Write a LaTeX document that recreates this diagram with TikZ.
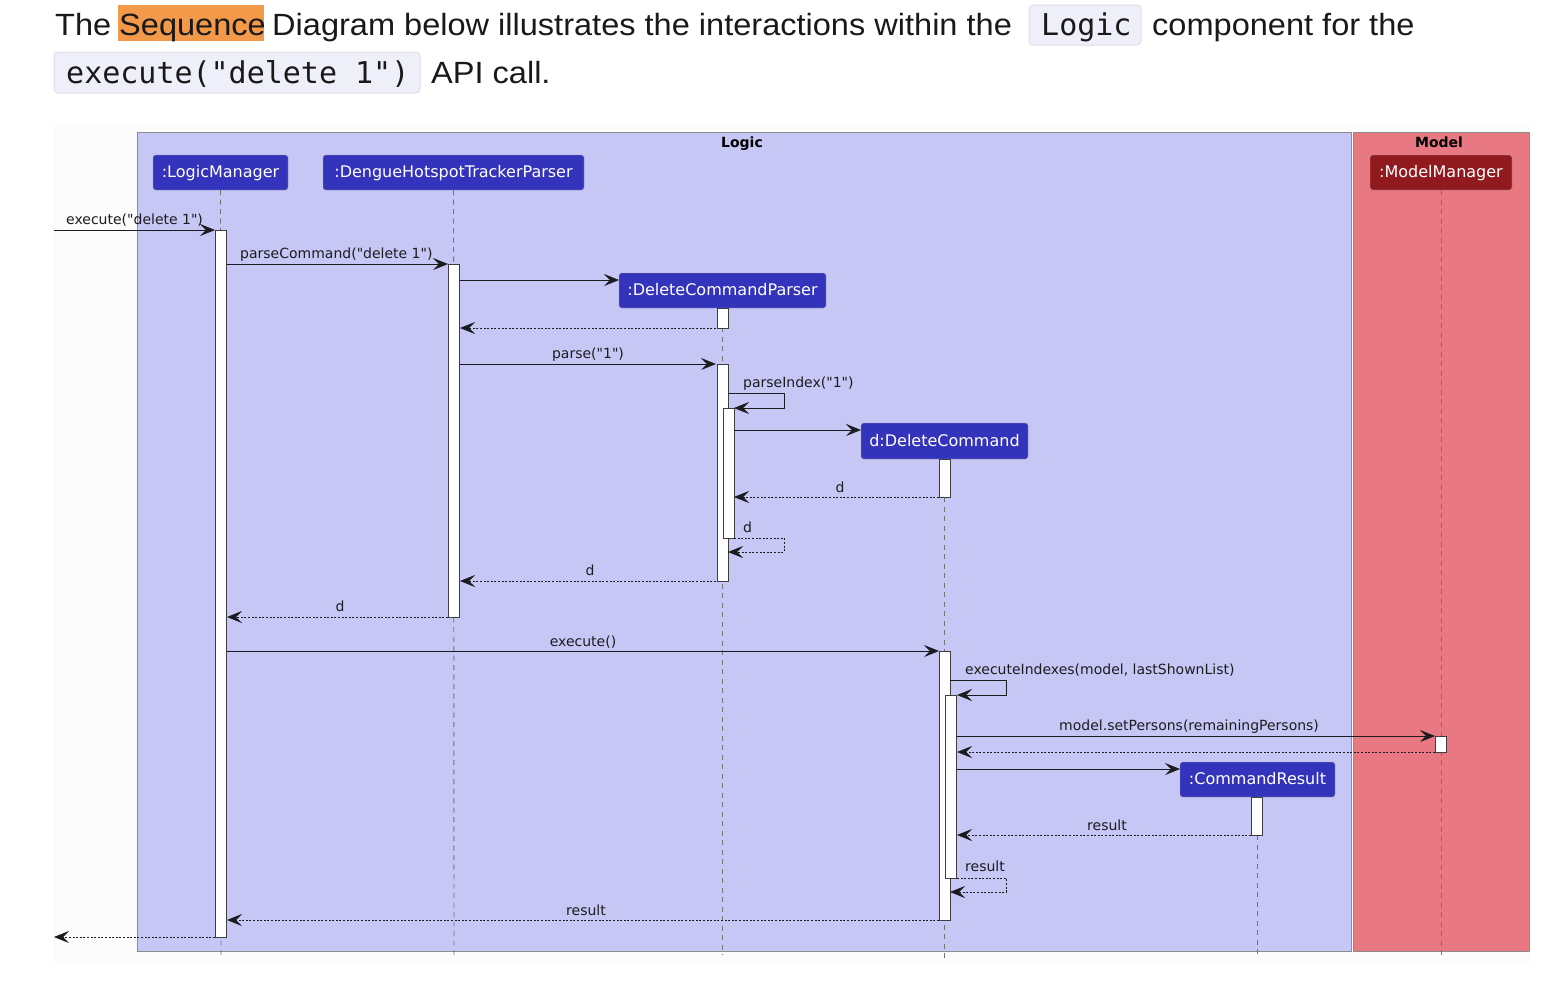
\documentclass[tikz,border=0pt]{standalone}
\usepackage{fontspec}
\setmainfont{Liberation Sans}
\newfontfamily\hdfont[FakeStretch=1.06]{Liberation Sans}
\newfontfamily\dfont{DejaVu Sans}
\newfontfamily\cfont{DejaVu Sans Mono}
\newcommand\myhdfont{\hdfont\fontsize{30.7}{36}\selectfont}
\newcommand\mycfont{\cfont\fontsize{30}{36}\selectfont}
\newcommand\mypfont{\dfont\fontsize{16}{18}\selectfont}
\newcommand\mylfont{\dfont\fontsize{14}{16}\selectfont}
\newcommand\mytfont{\dfont\bfseries\fontsize{14}{16}\selectfont}
\usetikzlibrary{arrows.meta}
\definecolor{logicbg}{RGB}{199,199,245}
\definecolor{modelbg}{RGB}{232,120,130}
\definecolor{partblue}{RGB}{51,51,187}
\definecolor{partred}{RGB}{145,26,30}
\definecolor{hlorange}{RGB}{242,153,74}
\definecolor{codebg}{RGB}{239,239,250}
\definecolor{codebd}{RGB}{222,222,232}
\definecolor{areabg}{RGB}{252,252,253}
\definecolor{ink}{RGB}{28,28,32}
\begin{document}
\begin{tikzpicture}[x=1pt,y=-1pt,
  part/.style={draw=black!35, rounded corners=2.5pt, fill=partblue, text=white, font=\mypfont, inner sep=0pt, minimum height=35pt, text height=12pt, text depth=2pt},
  act/.style={draw=ink!85, fill=white, line width=1pt, minimum width=11pt, inner sep=0pt, anchor=north},
  life/.style={draw=black!55, line width=0.9pt, dash pattern=on 5pt off 4.5pt},
  tip/.tip={Stealth[length=15pt,width=12pt,inset=6pt,line width=0.6pt]},
  msg/.style={draw=ink, line width=1pt, -tip},
  ret/.style={msg, dash pattern=on 2pt off 1.6pt},
  lbl/.style={font=\mylfont, text=ink, inner sep=0pt, anchor=base},
  hd/.style={font=\myhdfont, text=black!90, inner sep=0pt, anchor=base west},
  code/.style={font=\mycfont, text=black!90, inner sep=0pt, anchor=base west},
  codebox/.style={fill=codebg, draw=codebd, line width=1pt, rounded corners=4pt},
  group/.style={draw=black!45, line width=1pt},
  title/.style={font=\mytfont, text=black, inner sep=0pt, anchor=base}
]
\useasboundingbox (0,0) rectangle (1552,1002);
\fill[white] (0,0) rectangle (1552,1002);

% ---------- header text ----------
\fill[hlorange] (118,5) rectangle (264,41);
\node[hd] (tThe) at (55,35) {The};
\node[hd] (tSeq) at (119,35) {Sequence};
\node[hd] (tDia) at (272,35) {Diagram below illustrates the interactions within the};
\draw[codebox] (1029,5) rectangle (1141,45);
\node[code] (tLogic) at (1041,35) {Logic};
\node[hd] (tComp) at (1152,35) {component for the};
\draw[codebox] (54,52) rectangle (420,93);
\node[code] (tExec) at (66,83) {execute("delete 1")};
\node[hd] (tApi) at (431,83) {API call.};

% ---------- diagram area ----------
\fill[areabg] (54,123) rectangle (1530,965);
\filldraw[fill=logicbg, group] (137,132) rectangle (1351,951);
\filldraw[fill=modelbg, group] (1353,132) rectangle (1529,951);
\node[title] (gLogic) at (742,147) {Logic};
\node[title] (gModel) at (1439,147) {Model};

% ---------- participants ----------
\node[part, minimum width=135pt] (pLM) at (220.5,172.5) {:LogicManager};
\node[part, minimum width=261pt] (pP) at (453.5,172.5) {:DengueHotspotTrackerParser};
\node[part, minimum width=207pt] (pDCP) at (722.5,290.5) {:DeleteCommandParser};
\node[part, minimum width=167pt, minimum height=36pt] (pDC) at (944.5,441) {d:DeleteCommand};
\node[part, minimum width=155pt] (pCR) at (1257.5,779.5) {:CommandResult};
\node[part, minimum width=142pt, fill=partred] (pMM) at (1441,172.5) {:ModelManager};

% ---------- lifelines ----------
\coordinate (eLM) at (221,955);
\coordinate (eP) at (454,955);
\coordinate (eDCP) at (722.5,955);
\coordinate (eDC) at (944.5,958);
\coordinate (eCR) at (1257.5,956);
\coordinate (eMM) at (1441,955);
\draw[life] (pLM.south) -- (eLM);
\draw[life] (pP.south) -- (eP);
\draw[life] (pDCP.south) -- (eDCP);
\draw[life] (pDC.south) -- (eDC);
\draw[life] (pCR.south) -- (eCR);
\draw[life] (pMM.south) -- (eMM);

% ---------- activations ----------
\node[act, minimum height=707pt] (aLM) at (221,230) {};
\node[act, minimum height=353pt] (aP) at (454,264) {};
\node[act, minimum height=20pt] (aDCP0) at (722.5,308) {};
\node[act, minimum height=217pt] (aDCP) at (722.5,364) {};
\node[act, minimum height=130pt] (aDCP2) at (728.5,408) {};
\node[act, minimum height=38pt] (aDC0) at (944.5,459) {};
\node[act, minimum height=269pt] (aDC) at (944.5,651) {};
\node[act, minimum height=183pt] (aDC2) at (951,695) {};
\node[act, minimum height=16pt] (aMM) at (1441,736) {};
\node[act, minimum height=38pt] (aCR) at (1256.5,797) {};

% ---------- message end points ----------
\coordinate (m1a) at (54,230);    \coordinate (m1b) at (215,230);
\coordinate (m2a) at (227,264);   \coordinate (m2b) at (448,264);
\coordinate (m3a) at (460,280);   \coordinate (m3b) at (619,280);
\coordinate (m4a) at (716,328);   \coordinate (m4b) at (460,328);
\coordinate (m5a) at (460,364);   \coordinate (m5b) at (716,364);
\coordinate (m6a) at (728,393);   \coordinate (m6c) at (784,393);
\coordinate (m6d) at (784,408);   \coordinate (m6b) at (734,408);
\coordinate (m7a) at (734,430);   \coordinate (m7b) at (861,430);
\coordinate (m8a) at (939,497);   \coordinate (m8b) at (734,497);
\coordinate (m9a) at (734,538);   \coordinate (m9c) at (784,538);
\coordinate (m9d) at (784,552);   \coordinate (m9b) at (728,552);
\coordinate (m10a) at (716,581);  \coordinate (m10b) at (460,581);
\coordinate (m11a) at (448,617);  \coordinate (m11b) at (227,617);
\coordinate (m12a) at (227,651);  \coordinate (m12b) at (939,651);
\coordinate (m13a) at (950,680);  \coordinate (m13c) at (1006,680);
\coordinate (m13d) at (1006,695); \coordinate (m13b) at (957,695);
\coordinate (m14a) at (957,736);  \coordinate (m14b) at (1435,736);
\coordinate (m15a) at (1435,752); \coordinate (m15b) at (957,752);
\coordinate (m16a) at (957,769);  \coordinate (m16b) at (1180,769);
\coordinate (m17a) at (1251,835); \coordinate (m17b) at (957,835);
\coordinate (m18a) at (957,878);  \coordinate (m18c) at (1006,878);
\coordinate (m18d) at (1006,892); \coordinate (m18b) at (950,892);
\coordinate (m19a) at (939,920);  \coordinate (m19b) at (227,920);
\coordinate (m20a) at (215,937);  \coordinate (m20b) at (54,937);

% ---------- messages ----------
\draw[msg] (m1a) -- (m1b);
\draw[msg] (m2a) -- (m2b);
\draw[msg] (m3a) -- (m3b);
\draw[ret] (m4a) -- (m4b);
\draw[msg] (m5a) -- (m5b);
\draw[msg] (m6a) -- (m6c) -- (m6d) -- (m6b);
\draw[msg] (m7a) -- (m7b);
\draw[ret] (m8a) -- (m8b);
\draw[ret] (m9a) -- (m9c) -- (m9d) -- (m9b);
\draw[ret] (m10a) -- (m10b);
\draw[ret] (m11a) -- (m11b);
\draw[msg] (m12a) -- (m12b);
\draw[msg] (m13a) -- (m13c) -- (m13d) -- (m13b);
\draw[msg] (m14a) -- (m14b);
\draw[ret] (m15a) -- (m15b);
\draw[msg] (m16a) -- (m16b);
\draw[ret] (m17a) -- (m17b);
\draw[ret] (m18a) -- (m18c) -- (m18d) -- (m18b);
\draw[ret] (m19a) -- (m19b);
\draw[ret] (m20a) -- (m20b);

% ---------- labels ----------
\node[lbl, anchor=base west] (l1) at (66,224) {execute("delete 1")};
\node[lbl, anchor=base west] (l2) at (240,258) {parseCommand("delete 1")};
\node[lbl] (l5) at (588,358) {parse("1")};
\node[lbl, anchor=base west] (l6) at (743,387) {parseIndex("1")};
\node[lbl] (l8) at (840,492) {d};
\node[lbl, anchor=base west] (l9) at (743,532) {d};
\node[lbl] (l10) at (590,575) {d};
\node[lbl] (l11) at (340,611) {d};
\node[lbl] (l12) at (583,646) {execute()};
\node[lbl, anchor=base west] (l13) at (965,674) {executeIndexes(model, lastShownList)};
\node[lbl, anchor=base west] (l14) at (1059,730) {model.setPersons(remainingPersons)};
\node[lbl] (l17) at (1107,830) {result};
\node[lbl, anchor=base west] (l18) at (965,871) {result};
\node[lbl] (l19) at (586,915) {result};
\end{tikzpicture}
\end{document}
